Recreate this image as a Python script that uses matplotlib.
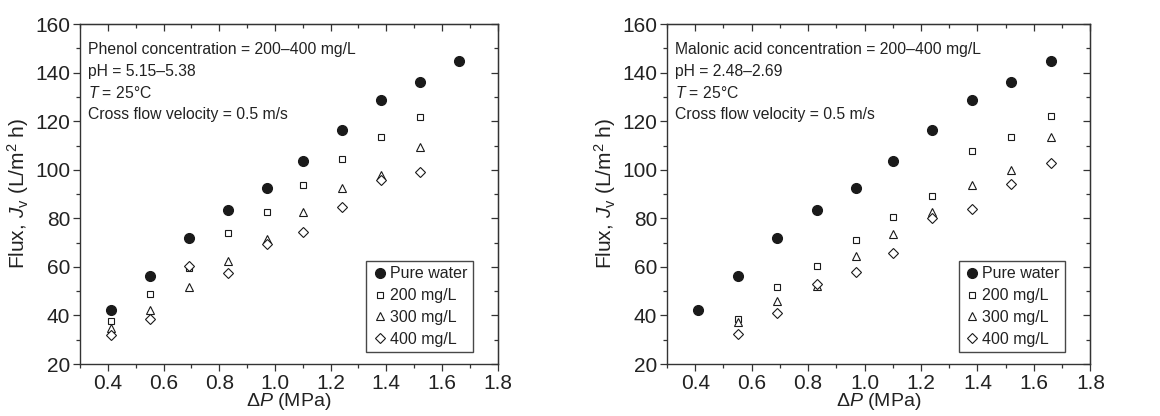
import numpy as np
import matplotlib
matplotlib.use("Agg")
import matplotlib.pyplot as plt

plt.rcParams['font.family'] = ['Liberation Sans', 'DejaVu Sans']
plt.rcParams['mathtext.fontset'] = 'custom'
plt.rcParams['mathtext.rm'] = 'Liberation Sans'
plt.rcParams['mathtext.it'] = 'Liberation Sans:italic'

# data
dp = [0.41, 0.55, 0.69, 0.83, 0.97, 1.10, 1.24, 1.38, 1.52, 1.66]
pure_water = [42.3, 56.1, 71.7, 83.5, 92.6, 103.5, 116.5, 128.8, 136.1, 144.8]

phenol_200 = [37.8, 49.0, 59.6, 73.8, 82.6, 93.6, 104.3, 113.7, 121.8]
phenol_300 = [34.8, 42.1, 51.7, 62.4, 71.3, 82.7, 92.3, 97.8, 109.2]
phenol_400 = [32.1, 38.4, 60.4, 57.6, 69.4, 74.2, 84.8, 95.9, 99.2]

malonic_200 = [38.7, 51.6, 60.4, 71.1, 80.5, 89.3, 107.8, 113.7, 122.0]
malonic_300 = [37.4, 45.8, 52.3, 64.3, 73.7, 82.6, 93.8, 100.0, 113.3]
malonic_400 = [32.3, 41.0, 53.0, 57.7, 65.8, 80.0, 84.0, 94.1, 102.6]

labels = ['Pure water', '200 mg/L', '300 mg/L', '400 mg/L']
info_phenol = ['Phenol concentration = 200\u2013400 mg/L', 'pH = 5.15\u20135.38',
               '$T$ = 25\u00b0C', 'Cross flow velocity = 0.5 m/s']
info_malonic = ['Malonic acid concentration = 200\u2013400 mg/L', 'pH = 2.48\u20132.69',
                '$T$ = 25\u00b0C', 'Cross flow velocity = 0.5 m/s']

txt = '#222222'

fig = plt.figure(figsize=(11.6, 4.16), dpi=100)
ax1 = fig.add_axes([0.069, 0.125, 0.360, 0.817])
ax2 = fig.add_axes([0.575, 0.125, 0.365, 0.817])


def draw(ax, x_s, s200, s300, s400, info):
    ax.plot(dp, pure_water, 'o', color='#1a1a1a', ms=7, label=labels[0])
    ax.plot(x_s, s200, 's', mfc='white', mec='#1a1a1a', mew=0.8, ms=5, label=labels[1])
    ax.plot(x_s, s300, '^', mfc='white', mec='#1a1a1a', mew=0.8, ms=6, label=labels[2])
    ax.plot(x_s, s400, 'D', mfc='white', mec='#1a1a1a', mew=0.8, ms=5, label=labels[3])

    ax.set_xlim(0.3, 1.8)
    ax.set_ylim(20, 160)
    ax.set_xticks(np.arange(0.4, 1.81, 0.2))
    ax.set_xticks(np.arange(0.3, 1.81, 0.1), minor=True)
    ax.set_yticks(np.arange(20, 161, 20))
    ax.set_yticks(np.arange(20, 161, 10), minor=True)
    ax.xaxis.set_major_formatter(plt.FuncFormatter(lambda v, p: f'{v:.1f}'))
    ax.tick_params(which='major', direction='out', length=5, width=0.9, pad=2,
                   labelsize=15, colors='#333333', labelcolor=txt)
    ax.tick_params(which='minor', direction='out', length=3, width=0.9, colors='#333333')
    for s in ax.spines.values():
        s.set_linewidth(1.0)
        s.set_color('#333333')

    # ticks pointing inward on top and right
    top = ax.secondary_xaxis('top')
    top.set_xticks(np.arange(0.4, 1.81, 0.2))
    top.set_xticks(np.arange(0.3, 1.81, 0.1), minor=True)
    top.tick_params(which='major', direction='in', length=5, width=0.9, labeltop=False, colors='#333333')
    top.tick_params(which='minor', direction='in', length=3, width=0.9, colors='#333333')
    right = ax.secondary_yaxis('right')
    right.set_yticks(np.arange(20, 161, 20))
    right.set_yticks(np.arange(20, 161, 10), minor=True)
    right.tick_params(which='major', direction='in', length=5, width=0.9, labelright=False, colors='#333333')
    right.tick_params(which='minor', direction='in', length=3, width=0.9, colors='#333333')

    ax.set_xlabel(r'$\Delta P$ (MPa)', fontsize=14, color=txt, labelpad=-1)
    ax.set_ylabel(r'Flux, $J_{\mathrm{v}}$ (L/m$^2$ h)', fontsize=15, color=txt, labelpad=3)

    for i, line in enumerate(info):
        ax.text(0.02, 0.948 - i * 0.064, line, transform=ax.transAxes,
                fontsize=11.3, color=txt, va='top', ha='left')

    leg = ax.legend(loc='lower right', bbox_to_anchor=(0.94, 0.035), fontsize=11.5,
                    frameon=True, fancybox=False, handletextpad=0.1,
                    handlelength=1.0, borderpad=0.35, labelspacing=0.42,
                    borderaxespad=0.0)
    leg.get_frame().set_edgecolor('#1a1a1a')
    leg.get_frame().set_linewidth(1.0)
    for t in leg.get_texts():
        t.set_color(txt)


draw(ax1, dp[:9], phenol_200, phenol_300, phenol_400, info_phenol)
draw(ax2, dp[1:], malonic_200, malonic_300, malonic_400, info_malonic)

fig.savefig('out.png', dpi=100)
